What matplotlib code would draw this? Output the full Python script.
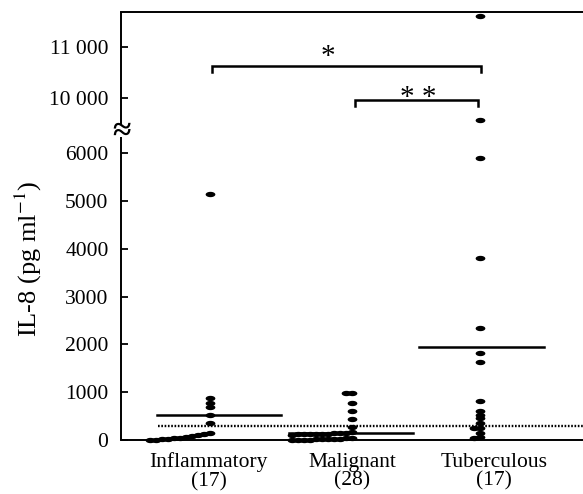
import numpy as np
import matplotlib
matplotlib.use("Agg")
import matplotlib.pyplot as plt
from matplotlib.path import Path

plt.rcParams['font.family'] = ['Liberation Serif', 'DejaVu Serif']
plt.rcParams['mathtext.fontset'] = 'stix'

# ---------------- data ----------------
categories = ["Inflammatory", "Malignant", "Tuberculous"]
counts = [17, 28, 17]
inflammatory = [5150, 880, 780, 690, 520, 350, 150, 120, 100, 80, 65, 50, 40, 30, 20, 10, 0]
malignant = [990, 985, 775, 605, 440, 272,
             160, 150, 145, 140, 135, 130, 125, 122, 118, 115, 110,
             40, 35, 30, 25, 22, 18, 15, 10, 8, 5, 0]
tuberculous = [11600, 8400, 5900, 3800, 2340, 1820, 1630, 815, 600, 530, 460,
               360, 260, 250, 150, 60, 40]
group_means = [520, 150, 1950]
cutoff = 300
yticks = [0, 1000, 2000, 3000, 4000, 5000, 6000, 10000, 11000]
ytick_labels = ["0", "1000", "2000", "3000", "4000", "5000", "6000",
                "10 000", "11 000"]

# ---------------- layout constants ----------------
col_x = [1.0, 2.0, 2.9]          # dot column positions
label_x = [0.99, 2.0, 3.0]       # category label positions
mean_x = [1.063, 1.99, 2.912]    # mean line centres
mean_half = 0.437
px_per_x = 142.0

# broken axis: value -> pixels above bottom
brk_vals = [0, 6000, 10000, 11000]
brk_pos = [0, 287, 342, 393]


def _pw(v, xs, ys):
    v = np.asarray(v, float)
    out = np.interp(v, xs, ys)
    lo = ys[0] + (v - xs[0]) * (ys[1] - ys[0]) / (xs[1] - xs[0])
    hi = ys[-1] + (v - xs[-1]) * (ys[-1] - ys[-2]) / (xs[-1] - xs[-2])
    return np.where(v < xs[0], lo, np.where(v > xs[-1], hi, out))


def fwd(v):
    return _pw(v, brk_vals, brk_pos)


def inv(p):
    return _pw(p, brk_pos, brk_vals)


def swarm_offsets(vals, step_px=6.0, thr_px=3.2):
    vals = np.asarray(vals, float)
    order = np.argsort(-vals, kind="stable")
    p = fwd(vals)
    offs = np.zeros(len(vals))
    prev = None
    for i in order:
        if prev is not None and abs(p[prev] - p[i]) < thr_px:
            offs[i] = offs[prev] - step_px
        else:
            offs[i] = 0.0
        prev = i
    return offs / px_per_x


W, H = 583, 494
fig = plt.figure(figsize=(W / 100, H / 100), dpi=100)
ax = fig.add_axes([121 / W, 1 - 440 / H, 1 - 121 / W, 428 / H])
ax.set_yscale('function', functions=(fwd, inv))
ax.set_ylim(0, float(inv(428)))
ax.set_xlim(0.373, 3.627)

# ellipse marker
t = np.linspace(0, 2 * np.pi, 40)
ell = Path(np.column_stack([np.cos(t), 0.55 * np.sin(t)]), closed=True)

groups = [inflammatory, malignant, tuberculous]
for cx, vals in zip(col_x, groups):
    offs = swarm_offsets(vals)
    ax.plot(cx + offs, vals, linestyle='none', marker=ell, markersize=7.0,
            color='black', markeredgewidth=0, clip_on=False, zorder=3)

for mx, m in zip(mean_x, group_means):
    ax.plot([mx - mean_half, mx + mean_half], [m, m], color='black', lw=1.8, zorder=2)

ax.plot([0.634, 3.627], [cutoff, cutoff], color='black', lw=1.7,
        linestyle=(0, (0.7, 0.7)), zorder=2)

# significance brackets
ax.plot([1.014, 1.014, 2.908, 2.908], [10510, 10627, 10627, 10510],
        color='black', lw=1.8, solid_joinstyle='miter', zorder=2)
ax.plot([2.021, 2.021, 2.887, 2.887], [9418, 9855, 9855, 9418],
        color='black', lw=1.8, solid_joinstyle='miter', zorder=2)
ax.text(1.831, 10800, "*", ha='center', va='center', fontsize=21)
ax.text(2.465, 10000, "* *", ha='center', va='center', fontsize=21)

# axes styling
ax.spines['right'].set_visible(False)
ax.spines['left'].set_visible(False)
for s in ['top', 'bottom']:
    ax.spines[s].set_linewidth(1.4)
ax.plot([0, 0], [0, 1 - (137 - 12) / 428], transform=ax.transAxes, color='black',
        lw=1.4, clip_on=False, solid_capstyle='butt')
ax.plot([0, 0], [1 - (125 - 12) / 428, 1], transform=ax.transAxes, color='black',
        lw=1.4, clip_on=False, solid_capstyle='butt')
fig.text(121 / W, 1 - 131 / H, "≈", ha='center', va='center', fontsize=24,
         fontweight='bold')

ax.set_yticks(yticks)
ax.set_yticklabels(ytick_labels)
ax.yaxis.set_minor_locator(matplotlib.ticker.NullLocator())
ax.tick_params(axis='y', direction='in', length=5, width=1.3, labelsize=15.5, pad=9)
ax.set_xticks(label_x)
ax.set_xticklabels([f"{c}\n({n})" for c, n in zip(categories, counts)], linespacing=1.0)
ax.tick_params(axis='x', length=0, labelsize=15.5, pad=9)

fig.text(28 / W, 1 - 259 / H, r"IL-8 (pg ml$^{-1}$)", rotation=90,
         ha='center', va='center', fontsize=19)

fig.savefig("out.png", dpi=100)
